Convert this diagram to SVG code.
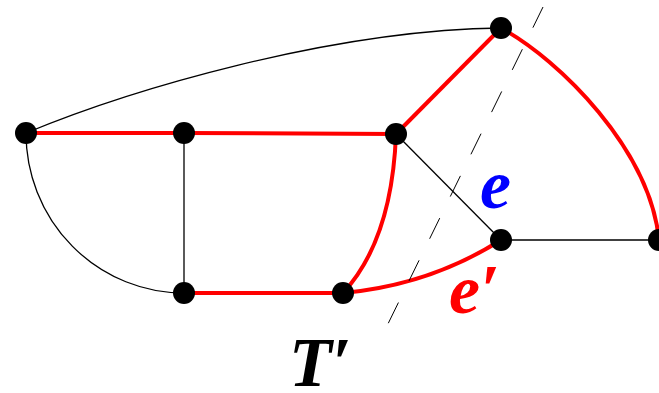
<svg xmlns="http://www.w3.org/2000/svg" width="659" height="393" viewBox="0 0 659 393">
<style>
.thin{fill:none;stroke:#000;stroke-width:1.3}
.red{fill:none;stroke:#ff0000;stroke-width:4;stroke-linejoin:round}
.dash{fill:none;stroke:#000;stroke-width:1;stroke-dasharray:23 24}
.node{fill:#000}
.lbl{font-family:"Liberation Serif","DejaVu Serif",serif;font-style:italic;font-weight:bold;font-size:70px}
</style>
<rect width="659" height="393" fill="#fff"/>
<g id="connectors">
<path class="thin" d="M26,133 C130,90 330,30 501,28"/>
<path class="thin" d="M26,133 A158 160 0 0 0 184,293"/>
<path class="thin" d="M184,133 L184,293"/>
<path class="thin" d="M396,134 L501,240"/>
<path class="thin" d="M501,240 L659,240"/>
<path class="red" d="M26,133 L184,133 L396,134"/>
<path class="red" d="M396,134 L501,28"/>
<path class="red" d="M501,28 C560,60 650,150 659,240"/>
<path class="red" d="M184,293 L343,293"/>
<path class="red" d="M396,134 Q392,240 343,293"/>
<path class="red" d="M343,293 Q430,285 501,240"/>
<path class="dash" d="M543,7 L385,330"/>
</g>
<g id="n1"><circle class="node" cx="26" cy="133" r="11"/></g>
<g id="n2"><circle class="node" cx="184" cy="133" r="11"/></g>
<g id="n3"><circle class="node" cx="396" cy="134" r="11"/></g>
<g id="n4"><circle class="node" cx="501" cy="28" r="11"/></g>
<g id="n5"><circle class="node" cx="501" cy="240" r="11"/></g>
<g id="n6"><circle class="node" cx="659" cy="240" r="11"/></g>
<g id="n7"><circle class="node" cx="184" cy="293" r="11"/></g>
<g id="n8"><circle class="node" cx="343" cy="293" r="11"/></g>
<g id="labels">
<text class="lbl" x="480" y="208" fill="#0000ff">e</text>
<text class="lbl" x="449" y="313" fill="#ff0000">e′</text>
<text class="lbl" x="289" y="386" fill="#000">T′</text>
</g>
</svg>
